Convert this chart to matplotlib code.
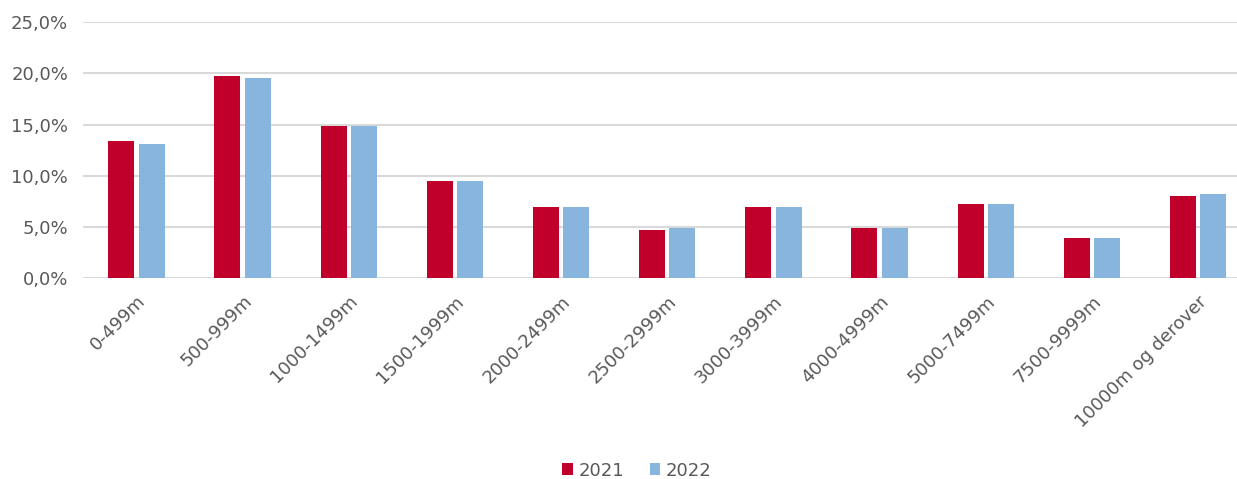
import matplotlib
matplotlib.use("Agg")
import matplotlib.pyplot as plt
import matplotlib.ticker as mticker
import numpy as np

categories = ["0-499m", "500-999m", "1000-1499m", "1500-1999m", "2000-2499m",
              "2500-2999m", "3000-3999m", "4000-4999m", "5000-7499m",
              "7500-9999m", "10000m og derover"]
share_2021 = [13.4, 19.7, 14.85, 9.5, 7.0, 4.7, 7.0, 4.9, 7.25, 3.9, 8.0]
share_2022 = [13.1, 19.5, 14.85, 9.5, 7.0, 4.9, 7.0, 4.9, 7.25, 3.9, 8.2]

plt.rcParams['font.family'] = ['DejaVu Sans']
text_color = '#595959'

fig = plt.figure(figsize=(12.37, 4.79), dpi=100)
# plot area runs a bit past the right edge of the image, like the source
ax = fig.add_axes([0.0674, 0.419, 0.944, 0.535])

x = np.arange(len(categories))
w = 0.245
gap = 0.04
ax.bar(x - (w + gap) / 2, share_2021, w, color='#C0002B', label='2021', zorder=3)
ax.bar(x + (w + gap) / 2, share_2022, w, color='#88B5DD', label='2022', zorder=3)

ax.set_xlim(-0.5, len(categories) - 0.5)
ax.set_ylim(0, 25)
ax.set_yticks(np.arange(0, 26, 5))
ax.yaxis.set_major_formatter(mticker.FuncFormatter(lambda v, p: '{:.1f}%'.format(v).replace('.', ',')))
ax.grid(axis='y', color='#d9d9d9', linewidth=1.5, zorder=0)
for s in ax.spines.values():
    s.set_visible(False)
ax.tick_params(axis='both', length=0, colors=text_color, labelsize=13)
ax.tick_params(axis='y', pad=11)

ax.set_xticks(x)
ax.set_xticklabels(categories, rotation=45, ha='right', rotation_mode='anchor')
ax.tick_params(axis='x', pad=10)

leg = fig.legend(loc='lower center', bbox_to_anchor=(0.515, -0.035), ncol=2, frameon=False,
                 fontsize=13, handlelength=0.6, handleheight=0.6, handletextpad=0.3,
                 columnspacing=1.4)
for t in leg.get_texts():
    t.set_color(text_color)

fig.savefig('out.png', dpi=100)
